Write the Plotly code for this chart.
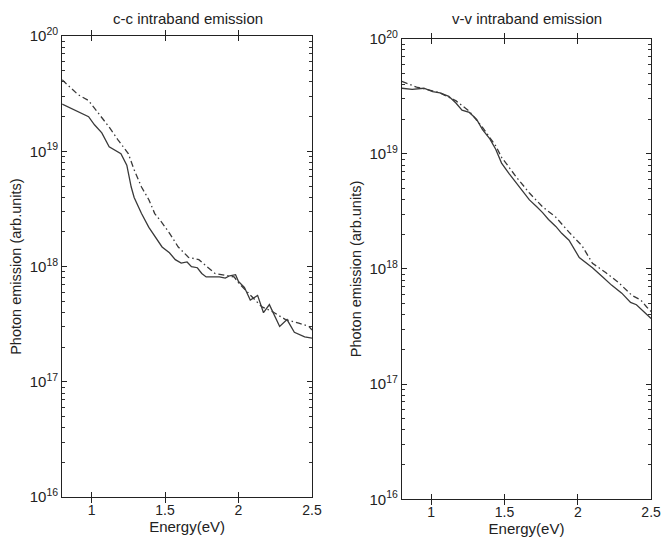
import plotly.graph_objects as go

# ---- data ----
# left panel: c-c intraband emission
cc_solid_E = [0.80, 0.91, 0.98, 1.02, 1.07, 1.12, 1.16, 1.20, 1.24, 1.27, 1.29, 1.34, 1.39,
              1.43, 1.48, 1.53, 1.57, 1.61, 1.65, 1.68, 1.72, 1.75, 1.78, 1.87, 1.91, 1.94,
              1.98, 2.00, 2.04, 2.08, 2.13, 2.17, 2.21, 2.28, 2.33, 2.38, 2.45, 2.50]
cc_solid_log = [19.41, 19.34, 19.30, 19.23, 19.16, 19.04, 19.01, 18.98, 18.88, 18.69, 18.60,
                18.46, 18.34, 18.26, 18.17, 18.12, 18.06, 18.03, 18.04, 18.00, 17.99, 17.94,
                17.91, 17.91, 17.90, 17.92, 17.93, 17.87, 17.82, 17.71, 17.75, 17.60, 17.67,
                17.48, 17.54, 17.43, 17.39, 17.38]
cc_dash_E = [0.80, 0.91, 0.98, 1.05, 1.12, 1.18, 1.25, 1.29, 1.34, 1.39, 1.43, 1.48, 1.53,
             1.59, 1.66, 1.73, 1.84, 1.97, 2.00, 2.09, 2.16, 2.23, 2.32, 2.41, 2.48, 2.50]
cc_dash_log = [19.62, 19.49, 19.44, 19.33, 19.21, 19.10, 18.98, 18.84, 18.69, 18.58, 18.46,
               18.38, 18.29, 18.17, 18.08, 18.06, 17.94, 17.91, 17.86, 17.74, 17.65, 17.61,
               17.54, 17.51, 17.48, 17.45]

# right panel: v-v intraband emission
vv_solid_E = [0.80, 0.87, 0.95, 1.01, 1.06, 1.12, 1.17, 1.21, 1.26, 1.31, 1.35, 1.40, 1.44,
              1.48, 1.53, 1.58, 1.62, 1.67, 1.72, 1.76, 1.80, 1.85, 1.89, 1.94, 2.01, 2.10,
              2.17, 2.23, 2.30, 2.36, 2.40, 2.45, 2.50]
vv_solid_log = [19.57, 19.56, 19.57, 19.54, 19.53, 19.50, 19.44, 19.38, 19.36, 19.30, 19.21,
                19.13, 19.04, 18.92, 18.83, 18.75, 18.69, 18.60, 18.54, 18.49, 18.43, 18.37,
                18.31, 18.25, 18.10, 18.01, 17.93, 17.86, 17.79, 17.71, 17.69, 17.63, 17.57]
vv_dash_E = [0.80, 0.90, 0.97, 1.06, 1.17, 1.26, 1.35, 1.44, 1.48, 1.58, 1.67, 1.76, 1.85,
             1.94, 2.03, 2.10, 2.19, 2.28, 2.37, 2.43, 2.47, 2.50]
vv_dash_log = [19.63, 19.58, 19.56, 19.53, 19.46, 19.37, 19.23, 19.07, 18.97, 18.80, 18.66,
               18.54, 18.45, 18.32, 18.20, 18.05, 17.97, 17.88, 17.77, 17.73, 17.67, 17.63]

titles = ["c-c intraband emission", "v-v intraband emission"]
x_ticks = [1, 1.5, 2, 2.5]
x_tick_text = ["1", "1.5", "2", "2.5"]
y_exponents = [16, 17, 18, 19, 20]
minor_mantissas = [2, 3, 4, 5, 6, 7, 8, 9]

line_col = "#3a3a3a"
text_col = "#222222"
font_fam = "Liberation Sans, Arial, sans-serif"
dashdot = "6px,3px,1.5px,3px"

fig = go.Figure()

def add(xs, logs, dash, xa, ya):
    fig.add_trace(go.Scatter(x=xs, y=[10.0 ** v for v in logs], mode="lines",
                             line=dict(color=line_col, width=1.3, dash=dash),
                             xaxis=xa, yaxis=ya, showlegend=False, hoverinfo="skip"))

add(cc_dash_E, cc_dash_log, dashdot, "x", "y")
add(cc_solid_E, cc_solid_log, "solid", "x", "y")
add(vv_dash_E, vv_dash_log, dashdot, "x2", "y2")
add(vv_solid_E, vv_solid_log, "solid", "x2", "y2")

# empty traces so the minor-tick overlay axes get drawn
for xa, ya in (("x", "y3"), ("x2", "y4")):
    fig.add_trace(go.Scatter(x=[None], y=[None], mode="lines", xaxis=xa, yaxis=ya,
                             showlegend=False, hoverinfo="skip"))

y_tickvals = [10.0 ** e for e in y_exponents]
y_ticktext = ["10<sup>%d</sup>" % e for e in y_exponents]
minor_vals = [float(m) * 10.0 ** k for k in y_exponents[:-1] for m in minor_mantissas]

def xaxis(domain, anchor):
    return dict(domain=domain, anchor=anchor, range=[0.8, 2.5], tickmode="array",
                tickvals=x_ticks, ticktext=x_tick_text, ticks="inside", ticklen=5,
                tickcolor="#222", showline=True, linecolor="#222", linewidth=1,
                mirror="allticks", showgrid=False, zeroline=False, automargin=False,
                ticklabeloverflow="allow",
                tickfont=dict(size=14, color=text_col, family=font_fam),
                title=dict(text="Energy(eV)", standoff=0,
                           font=dict(size=15, color=text_col, family=font_fam)))

def yaxis(domain, anchor):
    return dict(domain=domain, anchor=anchor, type="log", range=[16, 20],
                tickmode="array", tickvals=y_tickvals, ticktext=y_ticktext,
                ticks="inside", ticklen=5, tickcolor="#222", showline=True,
                linecolor="#222", linewidth=1, mirror="allticks", showgrid=False,
                zeroline=False, automargin=False, ticklabeloverflow="allow",
                tickfont=dict(size=15, color=text_col, family=font_fam),
                title=dict(text="Photon emission (arb.units)", standoff=4,
                           font=dict(size=14.5, color=text_col, family=font_fam)))

def minor_axis(domain, anchor, over):
    return dict(domain=domain, anchor=anchor, overlaying=over, type="log",
                range=[16, 20], tickmode="array", tickvals=minor_vals,
                showticklabels=False, ticks="inside", ticklen=3, tickcolor="#333",
                tickwidth=1, showline=False, mirror="allticks", showgrid=False,
                zeroline=False, automargin=False)

fig.update_layout(
    width=661, height=538,
    margin=dict(l=0, r=0, t=0, b=0, autoexpand=False),
    paper_bgcolor="white", plot_bgcolor="white",
    xaxis=xaxis([0.094, 0.472], "y"),
    yaxis=yaxis([0.076, 0.933], "x"),
    xaxis2=xaxis([0.608, 0.985], "y2"),
    yaxis2=yaxis([0.072, 0.928], "x2"),
    yaxis3=minor_axis([0.076, 0.933], "x", "y"),
    yaxis4=minor_axis([0.072, 0.928], "x2", "y2"),
    annotations=[
        dict(text=titles[0], x=0.284, y=0.965, xref="paper", yref="paper",
             showarrow=False, xanchor="center", yanchor="middle",
             font=dict(size=15, color=text_col, family=font_fam)),
        dict(text=titles[1], x=0.797, y=0.965, xref="paper", yref="paper",
             showarrow=False, xanchor="center", yanchor="middle",
             font=dict(size=15, color=text_col, family=font_fam)),
    ],
)

fig.write_html("out.html")
